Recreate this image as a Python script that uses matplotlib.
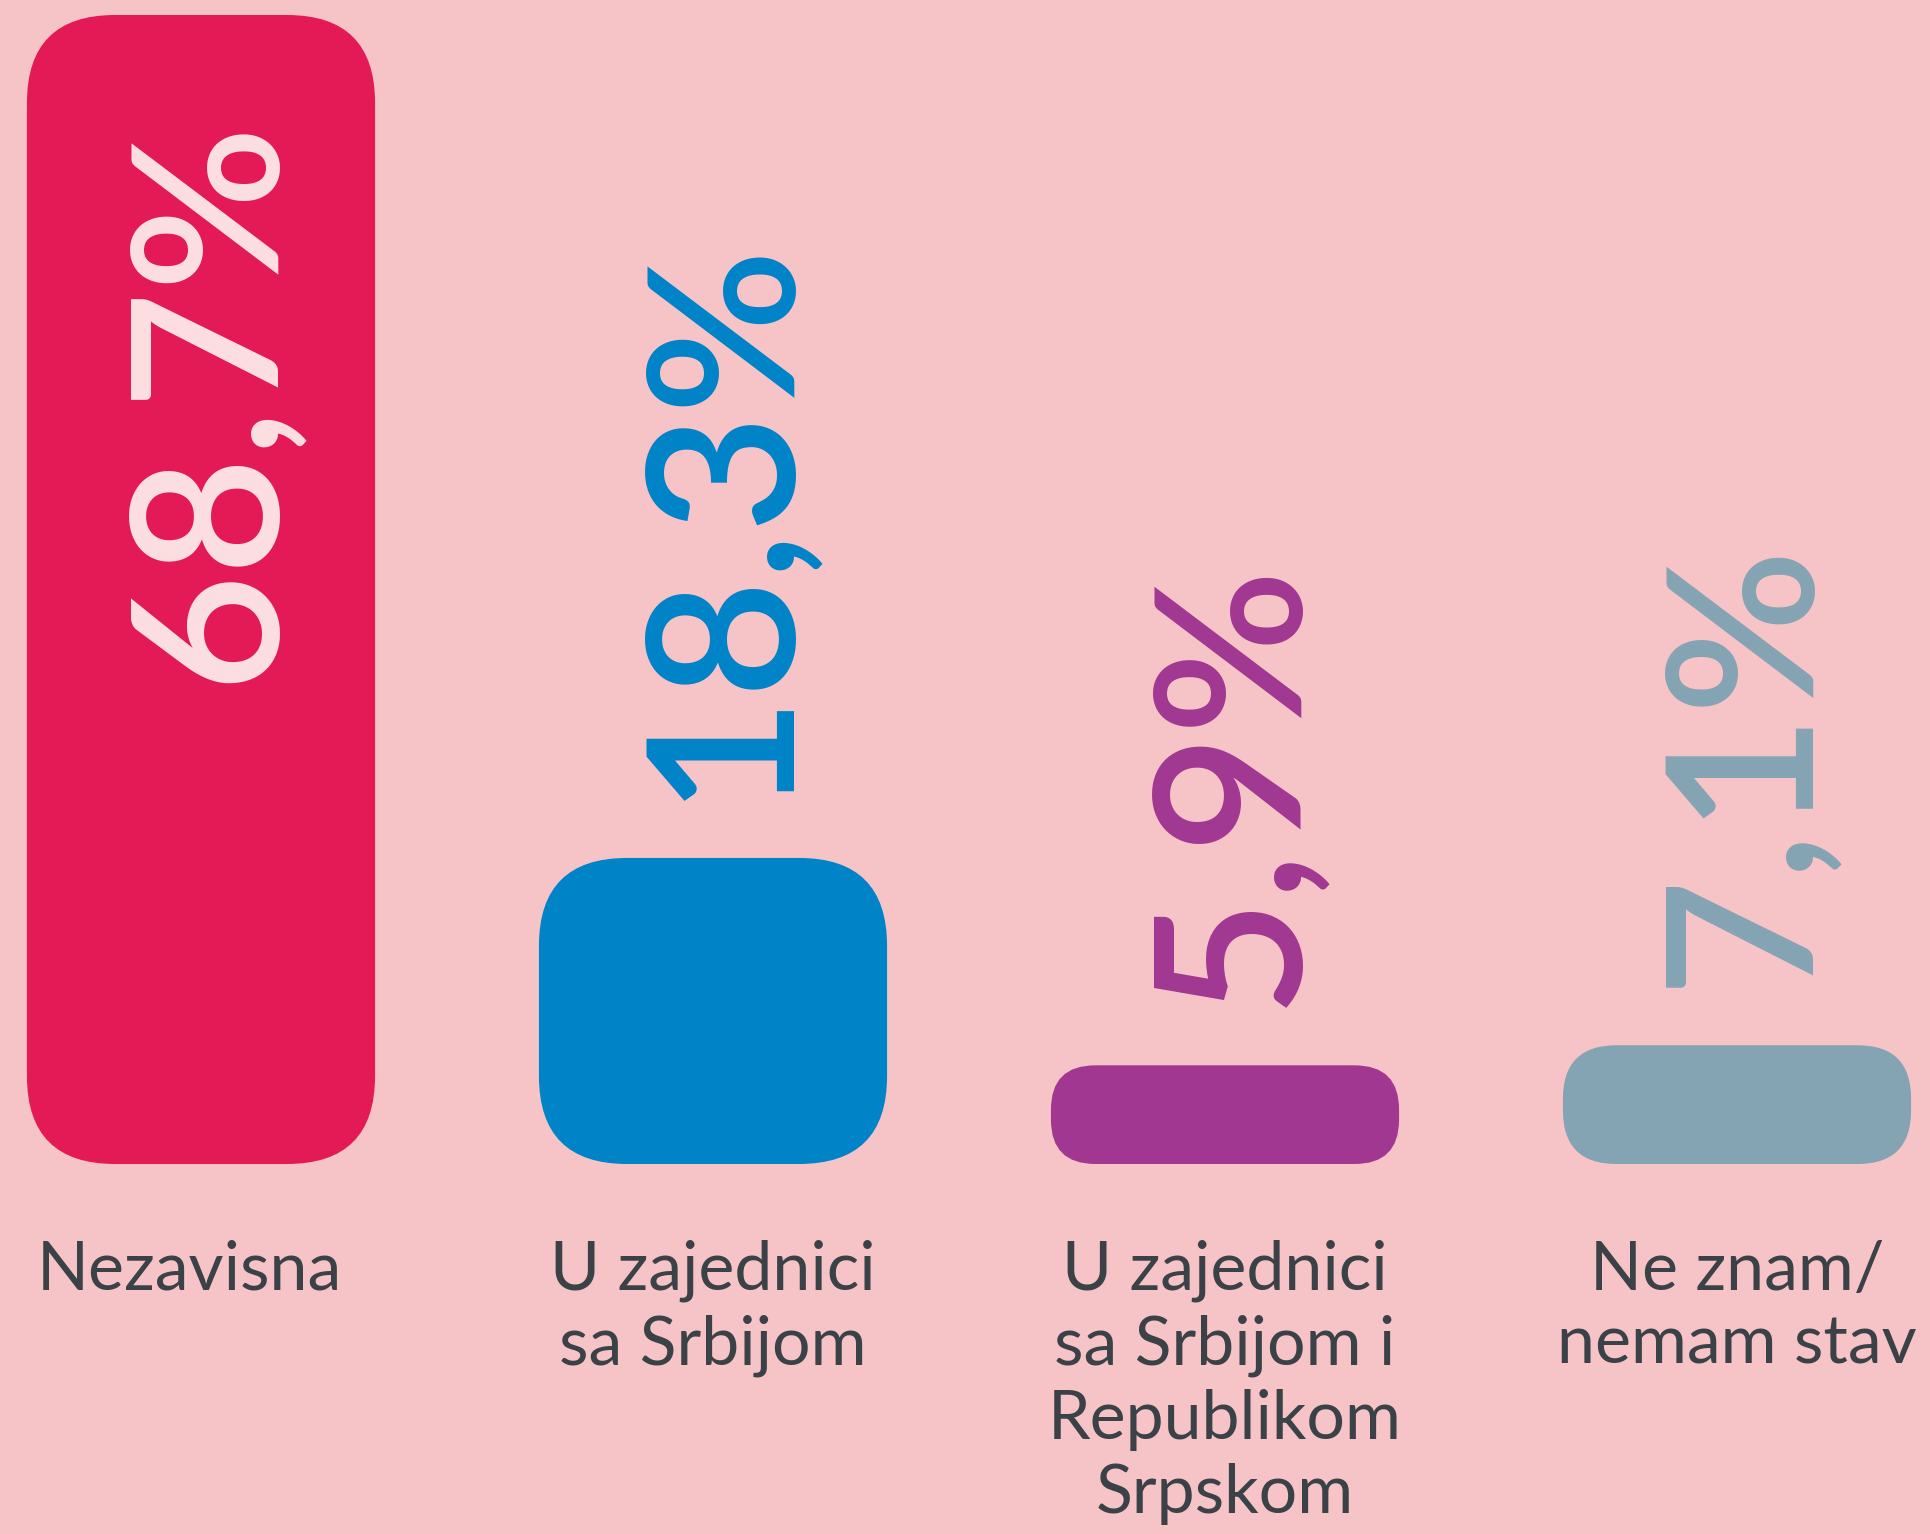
import matplotlib
matplotlib.use("Agg")
import matplotlib.pyplot as plt
from matplotlib.patches import FancyBboxPatch

# data
categories = ["Nezavisna", "U zajednici\nsa Srbijom",
              "U zajednici\nsa Srbijom i\nRepublikom\nSrpskom", "Ne znam/\nnemam stav"]
values = [68.7, 18.3, 5.9, 7.1]
value_labels = ["68,7%", "18,3%", "5,9%", "7,1%"]
bar_colors = ["#e41a57", "#0083c7", "#a13791", "#84a4b4"]
label_colors = ["#fde0e2", "#0083c7", "#a13791", "#84a4b4"]

bg = "#f6c4c7"
text_dark = "#3b4247"

W, H, dpi = 1931, 1534, 100
fig = plt.figure(figsize=(W / dpi, H / dpi), dpi=dpi, facecolor=bg)
ax = fig.add_axes([0, 0, 1, 1])
ax.set_facecolor(bg)
ax.axis("off")

# pixel layout of the plot area
x0_px, step_px = 201, 512
base_px = 370            # baseline, from bottom
px_per_pct = 16.725
ax.set_xlim(-x0_px / step_px, (W - x0_px) / step_px)
ax.set_ylim(-base_px / px_per_pct, (H - base_px) / px_per_pct)

plt.rcParams["font.family"] = ["Lato", "DejaVu Sans"]

x = list(range(len(values)))
bars = ax.bar(x, values, width=0.68, color="none", edgecolor="none")

aspect = step_px / px_per_pct
for i, rect in enumerate(bars):
    h_px = rect.get_height() * px_per_pct
    r_px = min(88, h_px * 0.45)
    patch = FancyBboxPatch((rect.get_x(), rect.get_y()), rect.get_width(), rect.get_height(),
                           boxstyle="round,pad=0,rounding_size=%f" % (r_px / step_px),
                           mutation_aspect=aspect,
                           facecolor=bar_colors[i], edgecolor="none")
    ax.add_patch(patch)

for i, rect in enumerate(bars):
    cx = rect.get_x() + rect.get_width() / 2
    top = rect.get_height()
    if i == 0:
        ax.annotate(value_labels[i], (cx, top), xytext=(10, -100), textcoords="offset pixels",
                    rotation=90, ha="center", va="top", fontsize=147, fontweight="semibold",
                    color=label_colors[i])
    else:
        ax.annotate(value_labels[i], (cx, top), xytext=(8, 58), textcoords="offset pixels",
                    rotation=90, ha="center", va="bottom", fontsize=147, fontweight="semibold",
                    color=label_colors[i])
    ax.annotate(categories[i], (cx, 0), xytext=(-12 if i == 0 else 0, -76), textcoords="offset pixels",
                ha="center", va="top", multialignment="center", fontsize=49,
                color=text_dark, linespacing=1.24)

fig.savefig("out.png", dpi=dpi, facecolor=bg)
